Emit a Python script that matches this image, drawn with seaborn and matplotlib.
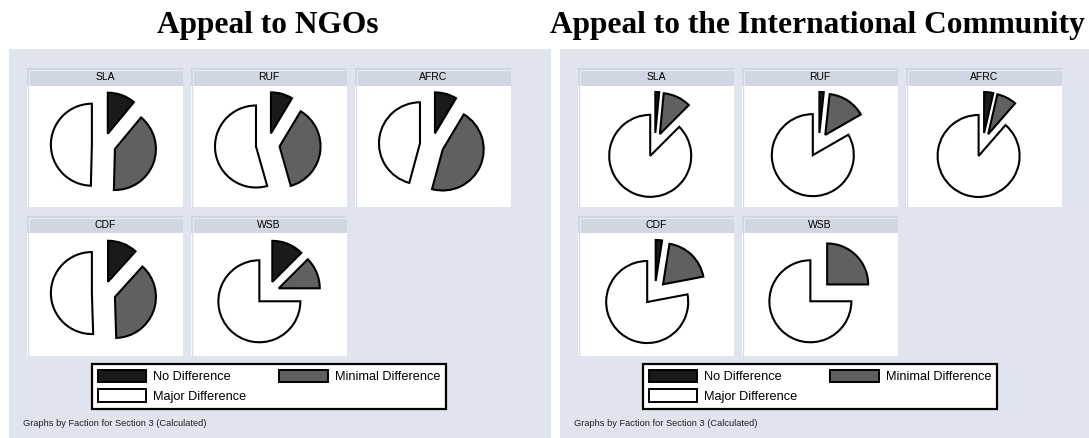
import matplotlib
matplotlib.use("Agg")
import matplotlib.pyplot as plt
from matplotlib.patches import Rectangle, Patch
from matplotlib.lines import Line2D
import seaborn as sns

# ---------------- data ----------------
factions = ["SLA", "RUF", "AFRC", "CDF", "WSB"]
categories = ["No Difference", "Minimal Difference", "Major Difference"]
panel_titles = ["Appeal to NGOs", "Appeal to the International Community"]

ngo_no = [11.0, 8.6, 8.6, 11.7, 12.5]
ngo_minimal = [39.4, 37.0, 45.6, 37.8, 12.5]
ngo_major = [49.6, 54.4, 45.8, 50.5, 75.0]

ic_no = [1.5, 1.7, 3.6, 2.5, 0.0]
ic_minimal = [11.0, 15.0, 7.8, 19.5, 25.0]
ic_major = [87.5, 83.3, 88.6, 78.0, 75.0]

footer = "Graphs by Faction for Section 3 (Calculated)"

# ---------------- style ----------------
sns.set_theme(style="white")
plt.rcParams["font.family"] = ["Liberation Sans", "DejaVu Sans"]
plt.rcParams["text.color"] = "black"

W, H = 1089, 438
fig = plt.figure(figsize=(W / 100, H / 100), dpi=100)
fig.patch.set_facecolor("white")

slice_colors = ["#1a1a1a", "#606060", "#ffffff"]
panel_bg = "#E0E4EF"
strip_bg = "#D1D7E2"


def fx(x):
    return x / W


def fy(y):
    return 1 - y / H


def frect(x, y, w, h, **kw):
    r = Rectangle((fx(x), fy(y + h)), w / W, h / H, transform=fig.transFigure, **kw)
    fig.patches.append(r)
    return r


panels = [
    (9, 551, [ngo_no, ngo_minimal, ngo_major], 268),
    (560, 1089, [ic_no, ic_minimal, ic_major], 817),
]

col_x = [18, 182, 346]
cell_w = 156
rows = [(68, 86, 121), (216, 233, 123)]  # strip top, plot top, plot height
radius_px = 41.0

for (px0, px1, series, tcx), ptitle in zip(panels, panel_titles):
    # panel background
    frect(px0, 49, px1 - px0, H - 49, facecolor=panel_bg, edgecolor="none", zorder=0)
    fig.text(fx(tcx), fy(33), ptitle, ha="center", va="baseline", color="black",
             fontsize=22.6, fontweight="bold", family=["Liberation Serif", "DejaVu Serif"])

    for i, fac in enumerate(factions):
        r, c = divmod(i, 3)
        st, pt, ph = rows[r]
        x = px0 + col_x[c]
        # strip
        frect(x, st, cell_w, pt - st, facecolor=strip_bg, edgecolor="none", zorder=1)
        fig.add_artist(Line2D([fx(x + 2), fx(x + cell_w - 1)], [fy(st + 2), fy(st + 2)],
                              color="#E6EAF2", lw=0.8, transform=fig.transFigure, zorder=2))
        fig.add_artist(Line2D([fx(x + 2), fx(x + 2)], [fy(st + 2), fy(pt - 1)],
                              color="#E6EAF2", lw=0.8, transform=fig.transFigure, zorder=2))
        fig.text(fx(x + cell_w / 2), fy((st + pt) / 2 + 0.5), fac, ha="center", va="center",
                 fontsize=7.5, color="black", zorder=3)
        # plot region
        frect(x, pt, cell_w, ph, facecolor="white", edgecolor="none", zorder=1)
        fig.add_artist(Line2D([fx(x + 1), fx(x + 1)], [fy(pt), fy(pt + ph)],
                              color="#D8DCE6", lw=1.0, transform=fig.transFigure, zorder=2))

        ax = fig.add_axes([fx(x), fy(pt + ph), cell_w / W, ph / H])
        ax.set_zorder(3)
        vals = [s[i] for s in series]
        wedges, _ = ax.pie(vals, colors=slice_colors, startangle=90, counterclock=False,
                           explode=[0.29] * 3, radius=1.0, normalize=True,
                           wedgeprops=dict(edgecolor="black", linewidth=1.5, joinstyle="miter"))
        for wdg, v in zip(wedges, vals):
            if v == 0:
                wdg.set_visible(False)
        hx = cell_w / 2 / radius_px
        hy = ph / 2 / radius_px
        ax.set_aspect("auto")
        ax.set_xlim(-hx + 0.03, hx + 0.03)
        ax.set_ylim(-hy - 0.04, hy - 0.04)
        ax.patch.set_alpha(0)
        ax.axis("off")

    # legend
    handles = [Patch(facecolor=slice_colors[0], edgecolor="black", linewidth=1.4, label=categories[0]),
               Patch(facecolor=slice_colors[2], edgecolor="black", linewidth=1.4, label=categories[2]),
               Patch(facecolor=slice_colors[1], edgecolor="black", linewidth=1.4, label=categories[1])]
    lx0, lx1 = px0 + 83, px0 + 437
    ly0, ly1 = 364, 409
    leg = fig.legend(handles=handles, ncol=2, loc="upper left",
                     bbox_to_anchor=(fx(lx0), fy(ly1), (lx1 - lx0) / W, (ly1 - ly0) / H),
                     mode="expand", fontsize=9.2, handlelength=3.8, handleheight=1.15,
                     handletextpad=0.55, labelspacing=0.45, columnspacing=1.0,
                     borderpad=0.45, borderaxespad=0.0, fancybox=False, frameon=True)
    leg.get_frame().set_edgecolor("black")
    leg.get_frame().set_linewidth(1.6)
    leg.get_frame().set_facecolor("white")
    leg.get_frame().set_alpha(1)
    for t in leg.get_texts():
        t.set_color("black")

    fig.text(fx(px0 + 14), fy(423), footer, ha="left", va="center", fontsize=6.7, color="#222222")

fig.savefig("out.png", dpi=100)
